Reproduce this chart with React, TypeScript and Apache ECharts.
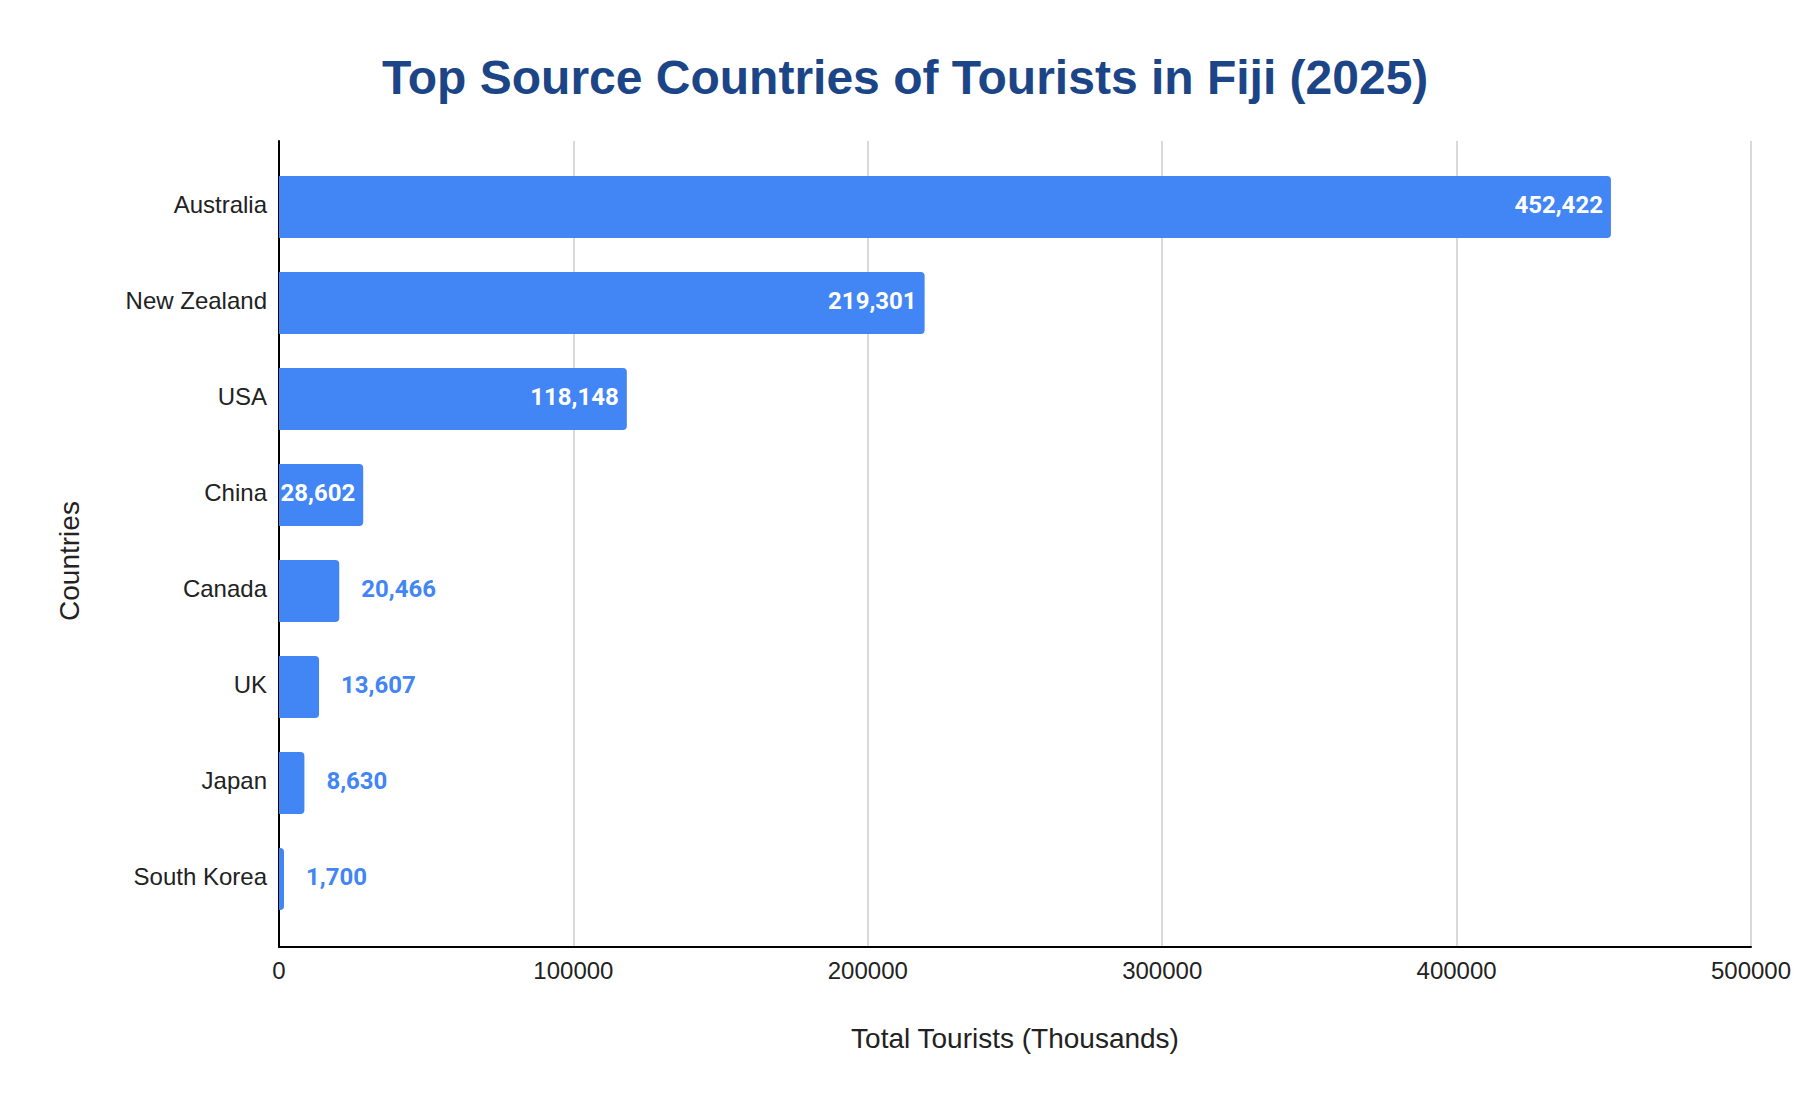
import React, { useEffect, useRef } from 'react';
import * as echarts from 'echarts';

const countries = ['Australia', 'New Zealand', 'USA', 'China', 'Canada', 'UK', 'Japan', 'South Korea'];
const tourists = [452422, 219301, 118148, 28602, 20466, 13607, 8630, 1700];
const axisMin = 0;
const axisMax = 500000;
const axisStep = 100000;
// values below this get their label outside the bar
const insideMin = 25000;

const BLUE = '#4285f4';

const App = () => {
  const chartRef = useRef<HTMLDivElement>(null);

  useEffect(() => {
    if (!chartRef.current) return;
    const myChart = echarts.init(chartRef.current, null, { renderer: 'svg' });

    const barData = tourists.map((v) => {
      const inside = v >= insideMin;
      return {
        value: v,
        label: inside
          ? { position: 'insideRight', distance: 8, color: '#ffffff' }
          : { position: 'right', distance: 22, color: BLUE },
      };
    });

    const option: any = {
      animation: false,
      backgroundColor: '#ffffff',
      title: {
        text: 'Top Source Countries of Tourists in Fiji (2025)',
        left: 382,
        top: 53,
        padding: 0,
        textStyle: {
          fontFamily: 'Liberation Sans, Arial, sans-serif',
          fontSize: 48,
          fontWeight: 'bold',
          color: '#1c4587',
        },
      },
      grid: [
        { left: 279, right: 55, top: 141, bottom: 161 },
        { left: 279, right: 55, top: 159, bottom: 181 },
      ],
      xAxis: [
        {
          type: 'value',
          gridIndex: 0,
          min: axisMin,
          max: axisMax,
          interval: axisStep,
          name: 'Total Tourists (Thousands)',
          nameLocation: 'middle',
          nameGap: 77,
          nameTextStyle: {
            fontFamily: 'Liberation Sans, Arial, sans-serif',
            fontSize: 28,
            color: '#222',
          },
          axisLine: { show: true, lineStyle: { color: '#000', width: 2 } },
          axisTick: { show: false },
          axisLabel: {
            margin: 11,
            fontFamily: 'Liberation Sans, Arial, sans-serif',
            fontSize: 24,
            color: '#222',
            formatter: (v: number) => String(v),
          },
          splitLine: { show: true, lineStyle: { color: '#cccccc', width: 1.5 } },
        },
        {
          type: 'value',
          gridIndex: 1,
          min: axisMin,
          max: axisMax,
          show: false,
        },
      ],
      yAxis: [
        {
          type: 'category',
          gridIndex: 0,
          inverse: true,
          data: countries,
          axisLine: { show: true, lineStyle: { color: '#000', width: 2 } },
          axisTick: { show: false },
          axisLabel: { show: false },
          splitLine: { show: false },
        },
        {
          type: 'category',
          gridIndex: 1,
          inverse: true,
          data: countries,
          axisLine: { show: false },
          axisTick: { show: false },
          axisLabel: {
            margin: 12,
            formatter: (v: string) => `{c|${v}}`,
            rich: {
              c: {
                padding: [0, 0, 5, 0],
                fontFamily: 'Liberation Sans, Arial, sans-serif',
                fontSize: 24,
                color: '#222',
              },
            },
          },
          splitLine: { show: false },
        },
      ],
      graphic: [
        {
          type: 'text',
          x: 69,
          y: 561,
          rotation: Math.PI / 2,
          style: {
            text: 'Countries',
            align: 'center',
            verticalAlign: 'middle',
            fontFamily: 'Liberation Sans, Arial, sans-serif',
            fontSize: 28,
            fill: '#222',
          },
        },
      ],
      series: [
        {
          type: 'bar',
          xAxisIndex: 1,
          yAxisIndex: 1,
          data: barData,
          barWidth: 62,
          itemStyle: { color: BLUE, borderRadius: [0, 4, 4, 0] },
          label: {
            show: true,
            offset: [0, -2],
            fontFamily: 'Roboto, sans-serif',
            fontWeight: 'bold',
            fontSize: 24,
            formatter: (p: any) => Number(p.value).toLocaleString('en-US'),
          },
        },
      ],
    };

    myChart.setOption(option);

    return () => {
      myChart.dispose();
    };
  }, []);

  return (
    <div
      ref={chartRef}
      style={{ position: 'fixed', left: 0, top: 0, width: '1806px', height: '1108px' }}
    />
  );
};

export default App;
